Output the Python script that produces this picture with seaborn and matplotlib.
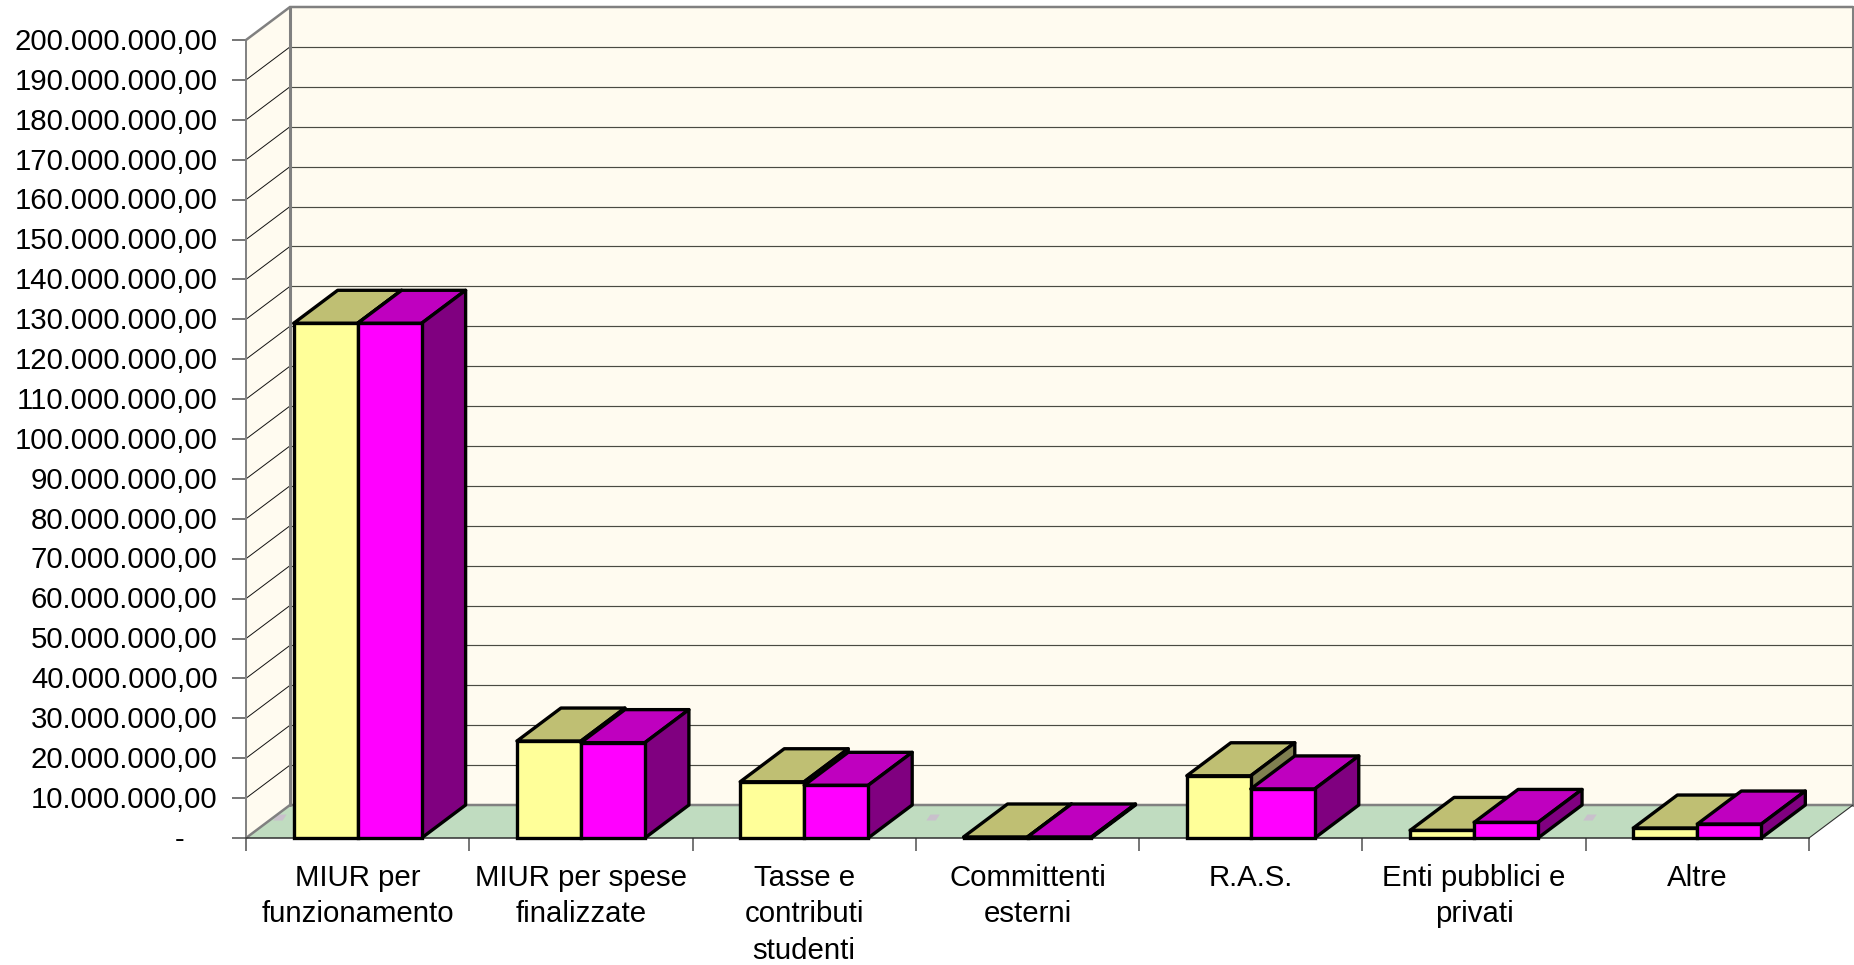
import matplotlib
matplotlib.use("Agg")
import matplotlib.pyplot as plt
from matplotlib.patches import Polygon
from matplotlib.transforms import ScaledTranslation
import numpy as np
import pandas as pd
import seaborn as sns

categories = ["MIUR per\nfunzionamento", "MIUR per spese\nfinalizzate", "Tasse e\ncontributi\nstudenti",
              "Committenti\nesterni", "R.A.S.", "Enti pubblici e\nprivati", "Altre"]
series_a = [129.0e6, 24.3e6, 14.1e6, 0.25e6, 15.6e6, 1.9e6, 2.5e6]
series_b = [129.0e6, 23.9e6, 13.2e6, 0.25e6, 12.3e6, 3.9e6, 3.5e6]
y_ticks = list(range(0, 200000001, 10000000))
floor_specks = [-0.348, 2.577, 5.519]

W, H = 1854, 965
X0, X1, Y0, Y1 = 246, 1809, 838, 40   # axes frame, pixels
DX_PX, DY_PX = 44, 33                  # depth of the 3D box, pixels
BAR_W = 0.573

sns.set_theme(style="white")
plt.rcParams['font.family'] = ['Liberation Sans', 'DejaVu Sans']

fig = plt.figure(figsize=(W / 100, H / 100), dpi=100, facecolor="white")
ax = fig.add_axes([X0 / W, 1 - Y0 / H, (X1 - X0) / W, (Y0 - Y1) / H])
ax.patch.set_visible(False)

df = pd.DataFrame({
    "cat": categories * 2,
    "serie": ["A"] * 7 + ["B"] * 7,
    "val": series_a + series_b,
})
sns.barplot(data=df, x="cat", y="val", hue="serie", hue_order=["A", "B"],
            palette=["#FFFF99", "#FF00FF"], width=BAR_W, gap=0, dodge=True,
            saturation=1, legend=False, linewidth=2.4, edgecolor="black", ax=ax)

ax.set_xlim(-0.5, 6.5)
ax.set_ylim(0, 200e6)
ddx = DX_PX * 7 / (X1 - X0)
ddy = DY_PX * 200e6 / (Y0 - Y1)
xl, xr = -0.5, 6.5
top = 200e6

GREY = "#808080"
WALL = "#FFFBF0"
FLOOR = "#C0DCC0"


def poly(pts, fc, ec="none", lw=0.0, z=1.0, join="round"):
    ax.add_patch(Polygon(pts, closed=True, facecolor=fc, edgecolor=ec, linewidth=lw,
                         zorder=z, clip_on=False, joinstyle=join))


# walls and floor
poly([(xl + ddx, ddy), (xr + ddx, ddy), (xr + ddx, top + ddy), (xl + ddx, top + ddy)], WALL, z=0.5)
poly([(xl, 0), (xl + ddx, ddy), (xl + ddx, top + ddy), (xl, top)], WALL, z=0.5)
poly([(xl, 0), (xr, 0), (xr + ddx, ddy), (xl + ddx, ddy)], FLOOR, z=0.5)

for sx in floor_specks:
    sw, sh = 0.03, ddy * 0.09
    poly([(sx - sw, 0.62 * ddy - sh), (sx + 0.4 * sw, 0.62 * ddy - sh),
          (sx + sw, 0.62 * ddy + sh), (sx - 0.4 * sw, 0.62 * ddy + sh)], "#C9C0CC", z=0.7)

for v in y_ticks[1:-1]:
    ax.plot([xl + ddx, xr + ddx], [v + ddy, v + ddy], color="#4a4a42", lw=0.85, zorder=0.8, clip_on=False)
    ax.plot([xl, xl + ddx], [v, v + ddy], color="#111111", lw=0.7, zorder=0.8, clip_on=False)

edge = dict(color=GREY, zorder=0.9, clip_on=False, solid_joinstyle="miter")
ax.plot([xl, xl + ddx, xr + ddx], [top, top + ddy, top + ddy], lw=1.8, **edge)
ax.plot([xl + ddx, xl + ddx], [ddy, top + ddy], lw=2.2, **edge)
ax.plot([xr + ddx, xr + ddx], [ddy, top + ddy], lw=2.2, **edge)
ax.plot([xl, xl + ddx, xr + ddx], [0, ddy, ddy], lw=1.8, **edge)
ax.plot([xr, xr + ddx], [0, ddy], color="#303030", lw=0.8, zorder=0.9, clip_on=False)

# extrusion of each bar, drawn from its own rectangle
tops = ["#BFBF73", "#BF00BF"]
sides = ["#808050", "#800080"]
for s, cont in enumerate(ax.containers):
    for g, bar in enumerate(cont):
        x, w, h = bar.get_x(), bar.get_width(), bar.get_height()
        z = 3 + g * 4 + s * 2
        poly([(x, h), (x + w, h), (x + w + ddx, h + ddy), (x + ddx, h + ddy)], tops[s], "black", 2.4, z)
        poly([(x + w, 0), (x + w + ddx, ddy), (x + w + ddx, h + ddy), (x + w, h)], sides[s], "black", 2.4, z)
        bar.set_zorder(z + 1)
        bar.set_joinstyle("miter")
        bar.set_clip_on(False)

# axes
sns.despine(ax=ax, top=True, right=True)
ax.spines["left"].set_color(GREY)
ax.spines["left"].set_linewidth(1.4)
ax.spines["left"].set_zorder(1.5)
ax.spines["bottom"].set_color("#303030")
ax.spines["bottom"].set_linewidth(1.1)
ax.spines["bottom"].set_zorder(1.5)

ax.set_yticks(y_ticks)
labels = [f"{v:,.2f}".replace(",", "X").replace(".", ",").replace("X", ".") for v in y_ticks]
labels[0] = "-    "
ax.set_yticklabels(labels)
ax.tick_params(axis="y", left=True, length=10, width=1.1, color="#505050", pad=10.5,
               labelsize=21.2, labelcolor="black")

ax.set_xticks(range(7))
ax.set_xticklabels(categories, linespacing=1.38)
ax.set_xticks(np.arange(-0.5, 7.0, 1.0), minor=True)
ax.tick_params(axis="x", which="major", bottom=False, length=0, pad=18.6, labelsize=21.2, labelcolor="black")
ax.tick_params(axis="x", which="minor", bottom=True, length=9.5, width=1.1, color="#505050")
ax.set_xlabel("")
ax.set_ylabel("")

nudge = ScaledTranslation(0, 1.2 / 100, fig.dpi_scale_trans)
for lab in ax.get_yticklabels():
    lab.set_transform(lab.get_transform() + nudge)

fig.savefig("out.png", dpi=100, facecolor="white")
